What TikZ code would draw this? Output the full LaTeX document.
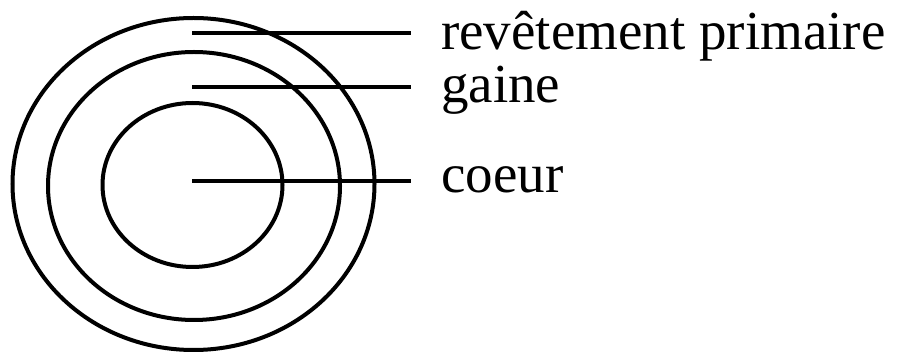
\documentclass[tikz,border=0pt]{standalone}
\usepackage{fontspec}
\setmainfont{Liberation Serif}
\begin{document}
\begin{tikzpicture}[x=1pt,y=-1pt,
  ring/.style={line width=4pt},
  leader/.style={line width=4.5pt},
  lab/.style={anchor=base west,inner sep=0pt,font=\fontsize{55}{66}\selectfont}]
\useasboundingbox (0,0) rectangle (897,352);
\draw[ring] (193.5,184) ellipse [x radius=181, y radius=166];
\draw[ring] (194,186) ellipse [x radius=146, y radius=134];
\draw[ring] (192.5,185) ellipse [x radius=90, y radius=82];
\coordinate (a1) at (192,33);  \coordinate (b1) at (411,33);
\coordinate (a2) at (192,87);  \coordinate (b2) at (411,87);
\coordinate (a3) at (192,181); \coordinate (b3) at (411,181);
\node[lab] (t1) at (441,50) {revêtement primaire};
\node[lab] (t2) at (441,103) {gaine};
\node[lab] (t3) at (441,193) {coeur};
\draw[leader] (a1) -- (b1);
\draw[leader] (a2) -- (b2);
\draw[leader] (a3) -- (b3);
\end{tikzpicture}
\end{document}
